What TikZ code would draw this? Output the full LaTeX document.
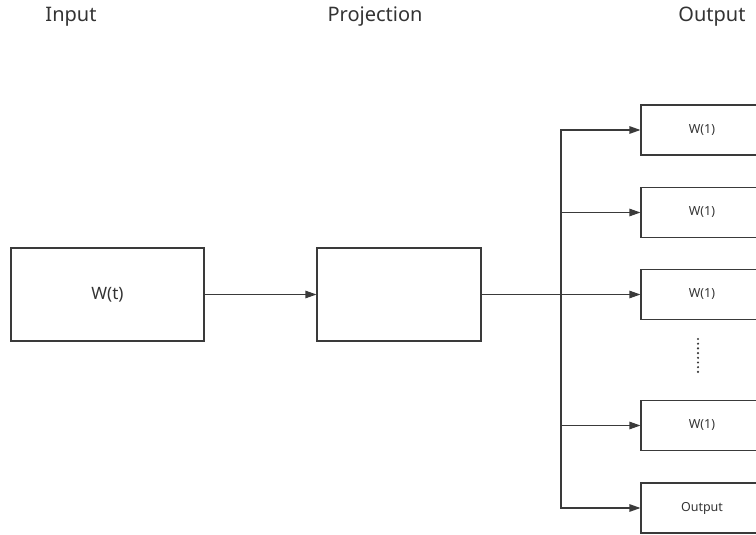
\documentclass[tikz,border=0pt]{standalone}
\usepackage{fontspec}
\setmainfont{Noto Sans}
\usetikzlibrary{arrows.meta}
\definecolor{linec}{HTML}{3A3A3A}
\definecolor{textc}{HTML}{333333}
\tikzset{
  box/.style={draw=linec, line width=1.1pt, rectangle, inner sep=0pt, text=textc},
  bigbox/.style={box, minimum width=193pt, minimum height=93pt, font=\fontsize{17}{20}\selectfont},
  projbox/.style={box, minimum width=164pt, minimum height=93pt},
  outbox/.style={box, minimum width=122pt, minimum height=50pt, font=\fontsize{12.5}{15}\selectfont},
  title/.style={text=textc, font=\fontsize{20}{24}\selectfont, inner sep=0pt},
  conn/.style={draw=linec, line width=1.1pt},
  arr/.style={conn, -{Triangle[length=11pt,width=7.5pt]}}
}
\begin{document}
\begin{tikzpicture}[x=1pt,y=-1pt]
\useasboundingbox (0,0) rectangle (756,535);
\clip (0,0) rectangle (756,535);
\node[title] (tin) at (71,17) {Input};
\node[title] (tproj) at (375,17) {Projection};
\node[title] (tout) at (712,17) {Output};
\node[bigbox] (in) at (107.5,294.5) {W(t)};
\node[projbox] (proj) at (399,294.5) {};
\node[outbox] (o1) at (702,130) {W(1)};
\node[outbox] (o2) at (702,212.5) {W(1)};
\node[outbox] (o3) at (702,294.5) {W(1)};
\node[outbox] (o4) at (702,425.5) {W(1)};
\node[outbox] (o5) at (702,508) {Output};
\coordinate (j) at (561,294.5);
\draw[arr] (in.east) -- (proj.west);
\draw[conn] (proj.east) -- (j);
\draw[arr] (j) |- (o1.west);
\draw[arr] (j) |- (o2.west);
\draw[arr] (j) -- (o3.west);
\draw[arr] (j) |- (o4.west);
\draw[arr] (j) |- (o5.west);
\draw[draw=linec, line width=2.4pt, line cap=round, dash pattern=on 0pt off 4.7pt] (698,339) -- (698,372);
\end{tikzpicture}
\end{document}
